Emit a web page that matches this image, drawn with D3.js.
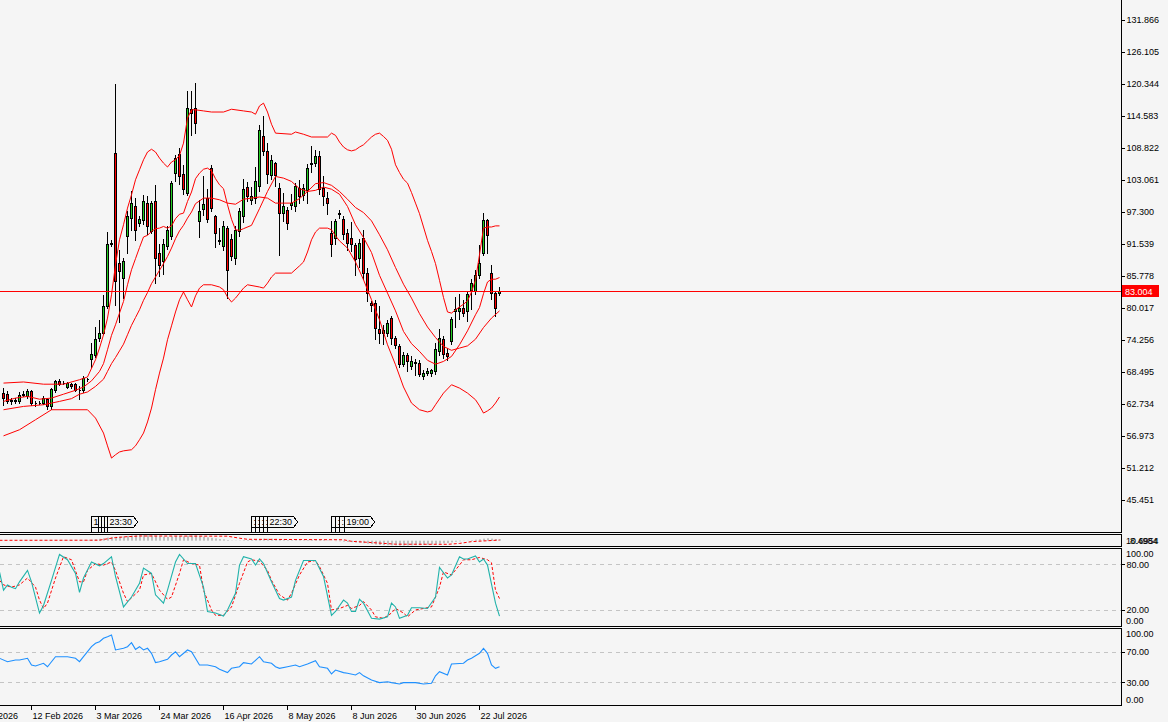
<!DOCTYPE html>
<html>
<head>
<meta charset="utf-8">
<script src="https://cdn.jsdelivr.net/npm/d3@7"></script>
<style>
  html, body { margin: 0; padding: 0; background: #f5f5f5; }
  svg { display: block; font-family: "Liberation Sans", Arial, sans-serif; font-size: 9px; }
</style>
</head>
<body>
<svg id="chart" width="1168" height="722"></svg>
<script>
// ---- candles (one value per bar) ----
const opens = [
  64.7, 64.5, 63.4, 63.3, 63.2, 64.3, 64.2, 65.0, 63.0, 62.9,
  62.9, 63.6, 62.3, 65.2, 66.9, 66.6, 65.8, 66.4, 66.3, 65.3,
  65.3, 67.3, 70.8, 71.6, 74.6, 75.6, 80.3, 91.5, 107.9, 88.2,
  85.4, 92.9, 96.2, 98.3, 95.4, 95.9, 99.0, 93.9, 99.2, 89.9,
  88.5, 91.2, 93.0, 104.4, 107.7, 104.1, 100.8, 115.8, 116.0, 95.6,
  97.8, 99.8, 105.2, 96.6, 92.3, 91.2, 94.4, 92.4, 89.0, 93.8,
  96.6, 101.8, 99.5, 99.8, 102.0, 110.9, 108.3, 104.0, 106.1, 101.6,
  97.1, 97.7, 98.6, 98.4, 101.6, 100.4, 101.3, 106.2, 106.1, 107.3,
  101.6, 99.8, 93.6, 92.6, 97.0, 96.0, 93.5, 92.7, 91.4, 89.0,
  92.6, 86.3, 80.9, 81.0, 76.2, 75.6, 75.5, 78.3, 74.6, 73.1,
  69.9, 71.6, 69.6, 70.3, 70.2, 67.8, 68.3, 68.3, 68.6, 72.3,
  74.4, 71.9, 74.0, 79.5, 79.5, 80.0, 79.4, 83.2, 83.1, 86.0,
  89.9, 95.8, 86.3, 82.7, 82.7
];
const highs = [
  65.6, 65.0, 63.9, 63.8, 64.9, 65.0, 65.5, 65.3, 63.3, 63.2,
  64.1, 63.9, 65.6, 67.1, 67.3, 66.8, 66.7, 66.6, 66.5, 65.9,
  67.7, 67.4, 73.7, 76.6, 77.9, 82.4, 93.7, 92.2, 120.3, 90.5,
  89.0, 97.4, 101.0, 99.8, 96.5, 100.3, 100.1, 99.3, 102.2, 91.5,
  92.4, 94.8, 102.9, 107.6, 108.8, 105.7, 119.0, 119.0, 120.5, 99.5,
  103.7, 101.4, 105.7, 96.8, 94.4, 95.6, 94.7, 93.4, 94.8, 98.0,
  103.3, 102.7, 101.8, 105.4, 112.9, 114.5, 109.7, 107.6, 106.3, 102.5,
  100.8, 98.2, 100.6, 102.5, 103.0, 102.3, 105.9, 109.1, 108.4, 108.3,
  103.7, 100.9, 95.6, 96.1, 97.6, 96.6, 94.3, 95.5, 91.8, 92.5,
  94.0, 87.2, 81.2, 81.4, 80.3, 77.0, 77.8, 78.6, 75.0, 73.5,
  72.1, 72.0, 71.3, 70.8, 70.6, 68.9, 69.2, 69.1, 73.7, 76.2,
  75.0, 72.8, 78.4, 82.0, 82.5, 81.5, 82.9, 85.2, 86.9, 91.3,
  97.1, 96.0, 87.7, 83.0, 83.8
];
const lows = [
  62.6, 62.9, 62.8, 63.0, 62.9, 64.1, 63.9, 62.5, 62.3, 62.8,
  62.7, 61.8, 61.9, 64.9, 66.1, 66.3, 65.6, 65.7, 65.0, 63.6,
  64.9, 66.8, 69.4, 71.2, 74.0, 75.3, 80.0, 91.2, 80.5, 77.5,
  81.8, 90.0, 94.1, 92.3, 94.8, 95.2, 93.3, 93.5, 84.5, 85.7,
  86.2, 90.6, 92.4, 102.8, 102.3, 100.5, 100.3, 111.2, 111.6, 92.8,
  96.8, 95.5, 97.5, 91.0, 91.6, 90.5, 81.8, 88.7, 88.0, 93.0,
  95.5, 99.3, 98.8, 98.9, 101.0, 107.5, 102.5, 103.2, 102.0, 89.6,
  95.6, 94.2, 97.9, 97.5, 99.0, 99.5, 98.9, 104.5, 105.5, 100.5,
  98.5, 97.0, 89.4, 91.5, 96.3, 92.5, 90.4, 90.2, 86.0, 87.4,
  85.2, 81.3, 79.5, 74.5, 73.7, 73.5, 75.0, 73.5, 72.8, 69.4,
  69.5, 68.6, 69.0, 68.0, 67.7, 67.2, 67.9, 67.7, 68.2, 71.5,
  71.0, 70.6, 73.6, 76.6, 78.0, 78.5, 77.7, 79.8, 82.5, 85.5,
  89.6, 89.9, 81.6, 78.5, 82.4
];
const closes = [
  63.8, 63.2, 63.3, 63.4, 64.3, 64.5, 65.0, 62.9, 62.9, 63.0,
  63.8, 62.3, 65.4, 66.9, 66.4, 66.5, 66.5, 65.9, 65.3, 65.2,
  67.4, 67.3, 71.7, 74.4, 75.6, 80.3, 91.5, 91.8, 84.8, 86.6,
  88.4, 96.5, 98.9, 94.1, 96.0, 99.3, 94.8, 98.9, 89.0, 87.8,
  91.5, 94.1, 102.6, 107.1, 103.8, 101.4, 116.0, 115.2, 113.4, 97.4,
  98.7, 96.0, 98.0, 93.5, 92.1, 94.7, 86.9, 89.4, 94.1, 97.4,
  101.4, 100.2, 100.2, 102.8, 112.1, 108.3, 104.1, 106.7, 104.0, 97.2,
  98.4, 95.3, 98.9, 102.0, 100.2, 101.6, 105.2, 105.9, 107.4, 101.4,
  100.1, 99.0, 91.5, 95.7, 97.1, 93.3, 91.7, 91.5, 88.8, 91.8,
  86.4, 82.7, 80.6, 76.4, 75.5, 76.1, 77.4, 74.6, 73.4, 69.9,
  71.6, 70.4, 70.5, 70.1, 68.1, 68.4, 68.7, 68.8, 72.7, 74.7,
  71.7, 71.4, 78.0, 79.8, 80.1, 79.1, 82.5, 84.6, 86.0, 88.2,
  95.9, 93.2, 82.7, 80.0, 83.004
];
const lastPrice = 83.004;

// ---- bands: [bar, value] ----
const upperBand = [[0,66.5],[5,66.7],[10,66.3],[15,66.3],[19,67.1],[21,67.6],[23,70.7],[24,72.8],[25,75.2],[26,78.2],
  [27,82.4],[28,87.8],[29,92.3],[30,95.0],[31,98.0],[32,100.4],[33,103.1],[34,104.9],[35,106.7],[36,108.1],[37,108.6],
  [38,108.1],[39,107.0],[40,106.1],[41,105.4],[42,106.3],[43,106.7],[44,107.5],[45,109.7],[46,114.2],[47,115.7],[48,115.7],
  [50,115.5],[52,115.3],[55,115.3],[57,115.8],[60,115.5],[62,115.3],[63,114.9],[64,116.4],[65,116.9],[66,115.3],[67,113.1],
  [68,111.5],[72,111.3],[73,111.7],[75,111.3],[77,110.8],[81,110.8],[82,111.5],[83,111.1],[84,109.9],[85,109.0],[86,108.5],
  [87,108.3],[88,108.5],[89,109.0],[90,109.4],[91,110.1],[92,110.8],[93,111.3],[94,111.5],[95,110.9],[96,110.2],[97,108.6],
  [98,105.8],[99,104.4],[100,103.2],[101,102.5],[102,100.8],[103,98.9],[104,97.0],[105,94.6],[106,92.2],[107,90.2],[108,88.0],
  [109,85.0],[110,81.9],[111,79.3],[112,79.1],[113,79.7],[114,80.2],[115,80.7],[116,81.3],[117,82.9],[118,85.1],[119,89.6],
  [120,94.4],[121,94.6],[122,94.6],[123,94.8],[124,94.8]];
const middleBand = [[0,61.7],[5,62.3],[10,62.6],[14,63.2],[17,63.7],[19,64.5],[21,64.9],[23,65.9],[25,67.2],[26,68.6],
  [27,70.0],[28,71.1],[29,72.3],[30,73.5],[31,75.2],[32,76.9],[33,78.3],[34,79.7],[35,81.4],[36,82.8],[37,84.4],[38,85.6],
  [39,86.8],[40,88.0],[41,89.3],[42,90.8],[43,92.5],[44,93.9],[45,94.9],[46,96.2],[47,97.3],[48,98.8],[49,99.3],[50,99.8],
  [52,99.8],[54,99.5],[56,98.9],[58,98.7],[60,99.6],[62,99.8],[64,100.0],[66,99.8],[68,98.9],[70,98.9],[72,98.9],[74,99.7],
  [76,101.0],[78,102.4],[80,102.6],[82,102.1],[84,101.0],[86,99.6],[88,98.1],[90,97.2],[92,95.7],[94,93.2],[96,90.5],
  [98,87.3],[100,84.3],[102,81.8],[104,79.0],[106,76.6],[108,74.7],[110,73.1],[112,72.4],[114,72.8],[116,73.2],[118,74.4],
  [120,76.5],[122,78.2],[124,79.5]];
const lowerBand = [[0,57.0],[4,58.1],[8,59.9],[12,61.7],[21,61.7],[23,60.2],[25,57.5],[26,55.2],[27,53.0],[28,53.6],
  [29,54.1],[30,54.3],[32,54.5],[33,55.2],[34,56.3],[35,57.5],[36,59.5],[37,62.0],[38,65.3],[39,68.3],[40,71.0],[41,74.3],
  [42,76.8],[43,79.3],[44,81.5],[45,82.9],[46,81.5],[47,80.2],[48,82.2],[49,83.6],[50,84.2],[52,84.2],[54,83.8],[55,83.3],
  [56,82.0],[57,81.1],[58,81.8],[59,82.7],[60,83.6],[61,84.2],[64,83.8],[65,83.6],[66,84.5],[67,85.6],[68,86.3],[72,86.3],
  [74,87.6],[75,88.3],[76,90.1],[77,92.3],[78,93.7],[79,94.4],[81,94.4],[82,94.1],[83,93.0],[84,92.1],[86,90.8],[88,88.3],
  [90,85.1],[92,81.5],[94,77.9],[96,73.4],[98,69.8],[100,65.8],[102,62.9],[104,61.7],[106,61.3],[107,61.5],[108,62.6],
  [110,64.7],[112,66.2],[114,65.6],[116,64.7],[118,63.5],[119,62.4],[120,61.1],[121,61.5],[122,62.0],[123,62.9],[124,64.0]];
const fastAverage = [[0,63.2],[3,63.8],[6,64.1],[9,63.6],[12,63.8],[15,64.5],[18,65.2],[20,65.8],[22,66.9],[24,68.6],
  [25,70.0],[26,72.5],[27,75.1],[28,77.0],[29,79.1],[30,81.2],[31,84.2],[32,86.9],[33,88.9],[34,90.9],[35,92.8],[36,93.1],
  [37,93.8],[38,94.3],[39,94.4],[40,94.7],[41,94.4],[42,94.8],[43,96.1],[44,96.9],[45,97.1],[46,99.2],[47,100.9],[48,103.3],
  [49,104.3],[50,105.0],[51,105.2],[52,104.7],[53,103.3],[54,102.2],[55,101.5],[56,98.6],[57,96.0],[58,94.1],[59,94.0],
  [60,94.3],[62,94.9],[64,97.9],[66,101.0],[68,103.7],[70,103.4],[72,102.8],[74,101.5],[76,101.0],[78,101.2],[80,101.8],
  [82,101.4],[84,100.5],[86,98.3],[88,95.0],[90,92.7],[92,90.0],[94,85.9],[96,82.7],[98,79.5],[100,75.8],[102,73.6],
  [104,72.2],[106,70.6],[108,69.9],[110,70.4],[112,71.3],[114,73.4],[116,75.9],[118,78.8],[119,80.1],[120,82.6],[121,84.7],
  [122,85.2],[123,85.2],[124,85.5]];

// ---- oscillator window (histogram per bar, signal as [bar, value]) ----
const oscHist = [
  0.2, 0.1, 0.0, -0.1, 0.0, 0.1, 0.2, 0.0, -0.2, -0.3,
  -0.2, -0.4, -0.1, 0.2, 0.3, 0.4, 0.4, 0.4, 0.3, 0.2,
  0.4, 0.8, 1.5, 2.2, 3.0, 3.8, 5.0, 6.0, 6.3, 6.5,
  6.8, 7.6, 8.3, 8.5, 8.6, 8.8, 8.5, 8.4, 7.6, 6.8,
  6.4, 6.2, 6.6, 7.2, 7.2, 6.9, 7.8, 8.3, 8.4, 7.2,
  6.3, 5.3, 4.6, 3.6, 2.7, 2.2, 1.1, 0.5, 0.4, 0.5,
  0.9, 1.2, 1.4, 1.8, 2.8, 3.2, 3.1, 3.2, 3.0, 2.3,
  1.8, 1.2, 1.0, 1.0, 0.9, 0.9, 1.2, 1.5, 1.8, 1.5,
  1.1, 0.7, -0.3, -0.7, -0.9, -1.4, -2.0, -2.4, -3.0, -3.2,
  -3.9, -4.7, -5.4, -6.2, -6.8, -7.1, -7.2, -7.4, -7.5, -7.8,
  -7.7, -7.6, -7.4, -7.2, -7.1, -6.8, -6.5, -6.2, -5.5, -4.7,
  -4.2, -3.8, -2.8, -1.8, -1.0, -0.4, 0.3, 1.0, 1.6, 2.3,
  3.3, 3.8, 3.3, 2.7, 2.4
];
const oscSignal = [[-1,0.6],[24,0.8],[25,2.0],[28,5.0],[31,6.5],[34,7.5],[56,7.2],[59,4.0],[61,2.2],[85,1.5],
  [87,-1.0],[92,-3.0],[98,-5.6],[111,-5.8],[114,-4.4],[117,-1.5],[124,1.0]];
const oscRange = [-8.4984, 10.6954];
const oscLabels = ["10.6954", "8.4984"];

// ---- stochastic ----
const stochMain = [[-1,70],[0,46],[1,53],[2,50],[3,48],[4,57],[6,72],[7,57],[9,16],[10,26],[12,59],[14,93],[16,86],
  [18,68],[19,43],[20,62],[22,83],[24,78],[25,81],[27,90],[28,64],[30,24],[32,37],[34,55],[35,75],[37,68],[38,40],[40,29],
  [41,46],[43,83],[44,93],[46,81],[48,81],[50,50],[51,18],[53,16],[55,12],[56,20],[58,42],[59,79],[60,90],[62,87],[63,79],
  [64,87],[65,81],[67,57],[69,35],[70,33],[72,37],[73,59],[75,85],[77,85],[78,85],[80,64],[82,13],[83,18],[85,33],[86,29],
  [87,18],[88,18],[89,34],[90,29],[92,9],[94,8],[96,11],[97,29],[98,24],[99,9],[101,13],[102,23],[104,23],[106,22],
  [108,37],[109,76],[111,62],[112,66],[114,90],[115,87],[116,87],[118,91],[119,83],[120,87],[121,79],[123,29],[124,12]];
const stochSignal = [[-1,59],[0,53],[2,50],[4,53],[6,62],[8,50],[9,33],[10,22],[11,29],[13,62],[15,90],[17,86],[19,57],
  [20,57],[21,72],[23,81],[25,79],[27,83],[28,72],[30,42],[31,31],[34,46],[35,66],[37,68],[39,46],[41,34],[42,37],[44,68],
  [45,86],[47,81],[49,79],[50,46],[52,20],[53,13],[55,13],[57,24],[59,55],[61,83],[62,86],[64,84],[66,72],[67,59],[69,40],
  [71,33],[72,42],[74,66],[76,83],[78,85],[79,77],[81,55],[82,20],[84,22],[86,26],[87,22],[89,26],[90,31],[92,20],[93,11],
  [95,9],[97,16],[98,22],[100,16],[101,11],[103,20],[105,22],[107,24],[109,50],[110,70],[112,66],[114,79],[115,86],
  [117,86],[119,89],[121,86],[122,82],[123,46],[124,35]];
const stochLevels = [80, 20];

// ---- RSI ----
const rsiLine = [[-1,61.3],[1,56.9],[3,59.1],[4,59.1],[6,61.3],[7,52.5],[8,51.2],[10,54.8],[11,50.3],[13,63.4],[14,63.4],
  [16,63.4],[18,61.3],[19,56.9],[20,63.4],[22,76.5],[23,80.9],[24,83.0],[25,87.4],[26,89.5],[27,91.8],[28,72.2],[30,74.4],
  [31,76.5],[32,81.7],[33,73.0],[34,76.5],[35,72.2],[36,74.4],[37,67.8],[38,55.7],[39,56.9],[41,60.0],[42,65.6],[43,69.9],
  [44,63.4],[46,72.2],[47,69.9],[49,52.5],[51,52.5],[53,50.3],[54,46.9],[56,42.6],[57,48.2],[59,50.3],[60,55.7],[62,53.9],
  [64,63.4],[65,56.9],[67,54.8],[68,50.3],[69,48.2],[71,50.3],[73,52.5],[74,50.3],[76,53.9],[78,58.2],[79,50.3],[81,48.2],
  [82,40.8],[83,46.0],[85,42.6],[86,41.7],[88,39.5],[89,42.6],[90,38.4],[92,32.9],[94,29.5],[96,30.7],[97,29.5],[99,27.8],
  [100,29.5],[103,29.5],[105,27.8],[107,28.6],[108,38.4],[109,43.8],[111,39.5],[112,53.9],[115,54.8],[116,59.1],[117,61.3],
  [119,67.8],[120,74.4],[121,67.8],[122,52.5],[123,48.2],[124,50.3]];
const rsiLevels = [70, 30];

// ---- axes ----
const priceTicks = [131.866, 126.105, 120.344, 114.583, 108.822, 103.061, 97.300, 91.539, 85.778,
  80.017, 74.256, 68.495, 62.734, 56.973, 51.212, 45.451];
const dateTickBars = [-9, 7, 23, 39, 55, 71, 87, 103, 119];
const dateLabels = ["22 Jan 2026", "12 Feb 2026", "3 Mar 2026", "24 Mar 2026", "16 Apr 2026",
  "8 May 2026", "8 Jun 2026", "30 Jun 2026", "22 Jul 2026"];

// ---- event flags (only the uncovered part of stacked flags shows) ----
const eventBars = [[22, 23.75, 24.5, 25.25, 26], [62, 63, 64, 65, 66], [82, 83, 84, 85.25]];
const eventTimes = [["1", ":", ":", ":", "23:30"],
  [":", ":", ":", ":", "22:30"],
  ["", ":", ":", "19:00"]];

// ================= drawing =================
const svg = d3.select("#chart");
const axisX = 1121.5;
const panels = { main: [0, 532], osc: [534, 546], stoch: [548, 626], rsi: [628, 705] };

const x = d3.scaleLinear().domain([0, closes.length - 1]).range([3, 499]);
const px = i => Math.round(x(i));
const yMain = d3.scaleLinear().domain([39.690, 135.467]).range([532, 0]);
const yOsc = d3.scaleLinear().domain(oscRange).range([546, 534]);
const yStoch = d3.scaleLinear().domain([0, 100]).range([625.2, 549.1]);
const yRsi = d3.scaleLinear().domain([0, 100]).range([705.2, 628.7]);

svg.append("rect").attr("width", 1168).attr("height", 722).attr("fill", "#f5f5f5");

const defs = svg.append("defs");
Object.entries(panels).forEach(([k, [t, b]]) => {
  defs.append("clipPath").attr("id", "clip-" + k)
    .append("rect").attr("x", 0).attr("y", t).attr("width", axisX).attr("height", b - t);
});

// candles
const candles = d3.range(closes.length).map(i => ({ i, o: opens[i], h: highs[i], l: lows[i], c: closes[i] }));
const cg = svg.append("g").attr("clip-path", "url(#clip-main)").attr("shape-rendering", "crispEdges");

cg.selectAll("line.wick").data(candles).join("line")
  .attr("class", "wick")
  .attr("x1", d => px(d.i) + 0.5).attr("x2", d => px(d.i) + 0.5)
  .attr("y1", d => Math.round(yMain(d.h))).attr("y2", d => Math.round(yMain(d.l)) + 1)
  .attr("stroke", "#000");

cg.selectAll("path.body").data(candles).join("path")
  .attr("class", "body")
  .attr("d", d => {
    const top = Math.round(yMain(Math.max(d.o, d.c))) + 0.5;
    const bot = Math.round(yMain(Math.min(d.o, d.c))) + 0.5;
    const x0 = px(d.i) - 0.5;
    return `M${x0},${top}H${x0 + 2}V${bot}H${x0}Z`;
  })
  .attr("fill", d => d.c >= d.o ? "#22cc22" : "#ff0000")
  .attr("stroke", "#000");

// band lines
const lineMain = d3.line().x(d => x(d[0]) + 0.5).y(d => yMain(d[1]));
const lg = svg.append("g").attr("clip-path", "url(#clip-main)");
[upperBand, middleBand, lowerBand, fastAverage].forEach(s => {
  lg.append("path").attr("d", lineMain(s))
    .attr("fill", "none").attr("stroke", "#ff0000").attr("stroke-width", 1);
});

// current price line
const yLast = Math.round(yMain(lastPrice)) + 0.5;
svg.append("line").attr("x1", 0).attr("x2", axisX).attr("y1", yLast).attr("y2", yLast)
  .attr("stroke", "#ff0000").attr("shape-rendering", "crispEdges");

// event flags
const fg = svg.append("g").attr("shape-rendering", "crispEdges");
eventBars.forEach((bars, g) => {
  bars.forEach((b, k) => {
    const x0 = Math.round(x(b)) + 0.5;
    fg.append("line").attr("x1", x0).attr("x2", x0).attr("y1", 527.5).attr("y2", 532)
      .attr("stroke", "#000");
    fg.append("path")
      .attr("d", `M${x0},516.5H${x0 + 26}L${x0 + 30},522L${x0 + 26},527.5H${x0}Z`)
      .attr("fill", "#f5f5f5").attr("stroke", "#000");
    fg.append("text").attr("x", x0 + 2).attr("y", 525.3).text(eventTimes[g][k]);
  });
});

// oscillator window
const og = svg.append("g").attr("clip-path", "url(#clip-osc)");
og.selectAll("rect").data(oscHist).join("rect")
  .attr("x", (d, i) => px(i))
  .attr("width", 2)
  .attr("y", d => Math.min(yOsc(0), yOsc(d)))
  .attr("height", d => Math.abs(yOsc(d) - yOsc(0)))
  .attr("fill", "#c0c0c0");
og.append("path")
  .attr("d", d3.line().x(d => x(d[0]) + 0.5).y(d => yOsc(d[1]))(oscSignal))
  .attr("fill", "none").attr("stroke", "#ff0000").attr("stroke-dasharray", "3,2");

// stochastic window
const sg = svg.append("g").attr("clip-path", "url(#clip-stoch)");
stochLevels.forEach(v => {
  const yy = Math.round(yStoch(v)) + 0.5;
  sg.append("line").attr("x1", 0).attr("x2", axisX).attr("y1", yy).attr("y2", yy)
    .attr("stroke", "#c4c4c4").attr("stroke-dasharray", "4,4").attr("shape-rendering", "crispEdges");
});
sg.append("path")
  .attr("d", d3.line().x(d => x(d[0]) + 0.5).y(d => yStoch(d[1]))(stochSignal))
  .attr("fill", "none").attr("stroke", "#ff0000").attr("stroke-dasharray", "3,2");
sg.append("path")
  .attr("d", d3.line().x(d => x(d[0]) + 0.5).y(d => yStoch(d[1]))(stochMain))
  .attr("fill", "none").attr("stroke", "#20b2aa").attr("stroke-width", 1.1);

// RSI window
const rg = svg.append("g").attr("clip-path", "url(#clip-rsi)");
rsiLevels.forEach(v => {
  const yy = Math.round(yRsi(v)) + 0.5;
  rg.append("line").attr("x1", 0).attr("x2", axisX).attr("y1", yy).attr("y2", yy)
    .attr("stroke", "#c4c4c4").attr("stroke-dasharray", "4,4").attr("shape-rendering", "crispEdges");
});
rg.append("path")
  .attr("d", d3.line().x(d => x(d[0]) + 0.5).y(d => yRsi(d[1]))(rsiLine))
  .attr("fill", "none").attr("stroke", "#1e90ff").attr("stroke-width", 1.1);

// panel frames
const frame = svg.append("g").attr("stroke", "#000").attr("shape-rendering", "crispEdges");
Object.entries(panels).forEach(([k, [t, b]]) => {
  if (k !== "main") frame.append("line").attr("x1", 0).attr("x2", axisX).attr("y1", t + 0.5).attr("y2", t + 0.5);
  frame.append("line").attr("x1", 0).attr("x2", axisX).attr("y1", b + 0.5).attr("y2", b + 0.5);
  frame.append("line").attr("x1", axisX).attr("x2", axisX).attr("y1", t).attr("y2", b + 1);
});

// price axis
const styleAxis = g => {
  g.select(".domain").remove();
  g.attr("font-family", null).attr("font-size", null);
  g.selectAll(".tick line").attr("stroke", "#000").attr("shape-rendering", "crispEdges");
  g.selectAll(".tick text").attr("fill", "#000");
};
svg.append("g").attr("transform", `translate(${axisX},0)`)
  .call(d3.axisRight(yMain).tickValues(priceTicks).tickFormat(d3.format(".3f")).tickSize(3).tickPadding(2))
  .call(styleAxis);

// last price tag
svg.append("rect").attr("x", 1122).attr("y", yLast - 6.5).attr("width", 37).attr("height", 12)
  .attr("fill", "#ff0000");
svg.append("text").attr("x", 1125).attr("y", yLast + 3.5).attr("fill", "#fff").text(d3.format(".3f")(lastPrice));

// oscillator window labels (max and min share the thin window)
oscLabels.forEach((t, k) => {
  svg.append("text").attr("x", 1126 + k * 4).attr("y", 543.5).text(t);
});

// stochastic axis
svg.append("g").attr("transform", `translate(${axisX},0)`)
  .call(d3.axisRight(yStoch).tickValues(stochLevels).tickFormat(d3.format(".2f")).tickSize(3).tickPadding(2))
  .call(styleAxis);
svg.append("text").attr("x", 1126).attr("y", yStoch(100) + 7.5).text("100.00");
svg.append("text").attr("x", 1126).attr("y", yStoch(0) - 1.5).text("0.00");

// RSI axis
svg.append("g").attr("transform", `translate(${axisX},0)`)
  .call(d3.axisRight(yRsi).tickValues(rsiLevels).tickFormat(d3.format(".2f")).tickSize(3).tickPadding(2))
  .call(styleAxis);
svg.append("text").attr("x", 1126).attr("y", yRsi(100) + 8.5).text("100.00");
svg.append("text").attr("x", 1126).attr("y", yRsi(0) - 2).text("0.00");

// date axis
const dg = svg.append("g");
dateTickBars.forEach((b, k) => {
  const xx = px(b) + 0.5;
  dg.append("line").attr("x1", xx).attr("x2", xx).attr("y1", 705).attr("y2", 710)
    .attr("stroke", "#000").attr("shape-rendering", "crispEdges");
  dg.append("text").attr("x", xx + 1).attr("y", 718.5).text(dateLabels[k]);
});
</script>
</body>
</html>
